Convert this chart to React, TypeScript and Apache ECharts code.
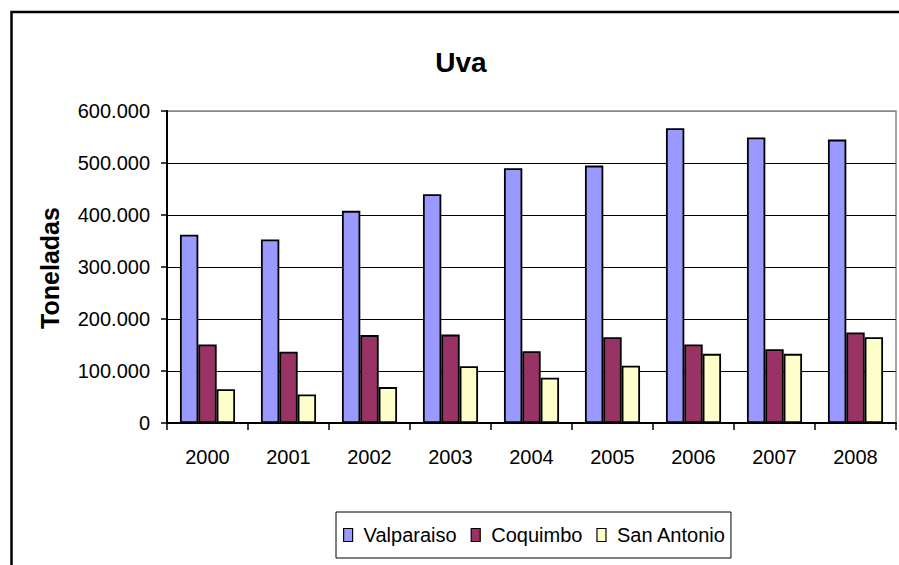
import React, { useEffect, useRef } from "react";
import * as echarts from "echarts";

const years = ["2000", "2001", "2002", "2003", "2004", "2005", "2006", "2007", "2008"];
const valparaiso = [362000, 353000, 408000, 440000, 490000, 495000, 567000, 549000, 545000];
const coquimbo = [151000, 137000, 169000, 170000, 138000, 165000, 151000, 142000, 174000];
const sanAntonio = [65000, 55000, 69000, 109000, 87000, 110000, 133000, 133000, 165000];
const seriesNames = ["Valparaiso", "Coquimbo", "San Antonio"];
const seriesColors = ["#9999FF", "#993366", "#FFFFCC"];

const FONT = "'Liberation Sans', Arial, sans-serif";

function fmt(v: number): string {
  return String(Math.round(v)).replace(/\B(?=(\d{3})+(?!\d))/g, ".");
}

export default function App() {
  const ref = useRef<HTMLDivElement>(null);
  useEffect(() => {
    if (!ref.current) return;
    const chart = echarts.init(ref.current, undefined, { renderer: "svg" });
    const data = [valparaiso, coquimbo, sanAntonio];
    chart.setOption({
      animation: false,
      backgroundColor: "#ffffff",
      graphic: [
        {
          type: "rect",
          shape: { x: 11.5, y: 12, width: 1000, height: 1000 },
          style: { fill: "none", stroke: "#000", lineWidth: 2.5 },
          z: 0,
        },
        {
          type: "text",
          x: 461,
          y: 62,
          style: {
            text: "Uva",
            align: "center",
            verticalAlign: "middle",
            font: `bold 28px ${FONT}`,
            fill: "#000",
          },
        },
        {
          type: "text",
          x: 50,
          y: 268,
          rotation: Math.PI / 2,
          style: {
            text: "Toneladas",
            align: "center",
            verticalAlign: "middle",
            font: `bold 25px ${FONT}`,
            fill: "#000",
          },
        },
      ],
      grid: {
        left: 167,
        top: 111,
        right: 3,
        bottom: 142,
        show: true,
        borderColor: "#888",
        borderWidth: 1.5,
        backgroundColor: "transparent",
      },
      legend: {
        data: seriesNames,
        left: 336,
        top: 512,
        orient: "horizontal",
        itemWidth: 9,
        itemHeight: 13,
        itemGap: 14,
        padding: [13, 5, 13, 7],
        borderColor: "#000",
        borderWidth: 1,
        icon: "rect",
        itemStyle: { borderColor: "#000", borderWidth: 1.2 },
        textStyle: { fontFamily: FONT, fontSize: 20, color: "#000", padding: [0, 0, 0, 6] },
      },
      xAxis: {
        type: "category",
        data: years,
        boundaryGap: true,
        axisLine: { lineStyle: { color: "#000", width: 2 } },
        axisTick: { show: true, alignWithLabel: false, length: 7, lineStyle: { color: "#000", width: 1.5 } },
        axisLabel: { fontFamily: FONT, fontSize: 20, color: "#000", margin: 24 },
        splitLine: { show: false },
      },
      yAxis: {
        type: "value",
        min: 0,
        max: 600000,
        interval: 100000,
        axisLine: { show: true, lineStyle: { color: "#000", width: 2 } },
        axisTick: { show: true, length: 6, lineStyle: { color: "#000", width: 1.5 } },
        axisLabel: {
          fontFamily: FONT,
          fontSize: 20,
          color: "#000",
          margin: 17,
          formatter: (v: number) => fmt(v),
        },
        splitLine: {
          show: true,
          lineStyle: { color: ["#000", "#000", "#000", "#000", "#000", "#000", "#888"], width: 1.2 },
        },
      },
      series: data.map((d, i) => ({
        name: seriesNames[i],
        type: "bar",
        data: d,
        barGap: "0%",
        barCategoryGap: "32%",
        itemStyle: { color: seriesColors[i], borderColor: "#000", borderWidth: 1.8 },
      })),
    });
    return () => chart.dispose();
  }, []);
  return (
    <div
      ref={ref}
      style={{ position: "fixed", left: 0, top: 0, width: 899, height: 565 }}
    />
  );
}
